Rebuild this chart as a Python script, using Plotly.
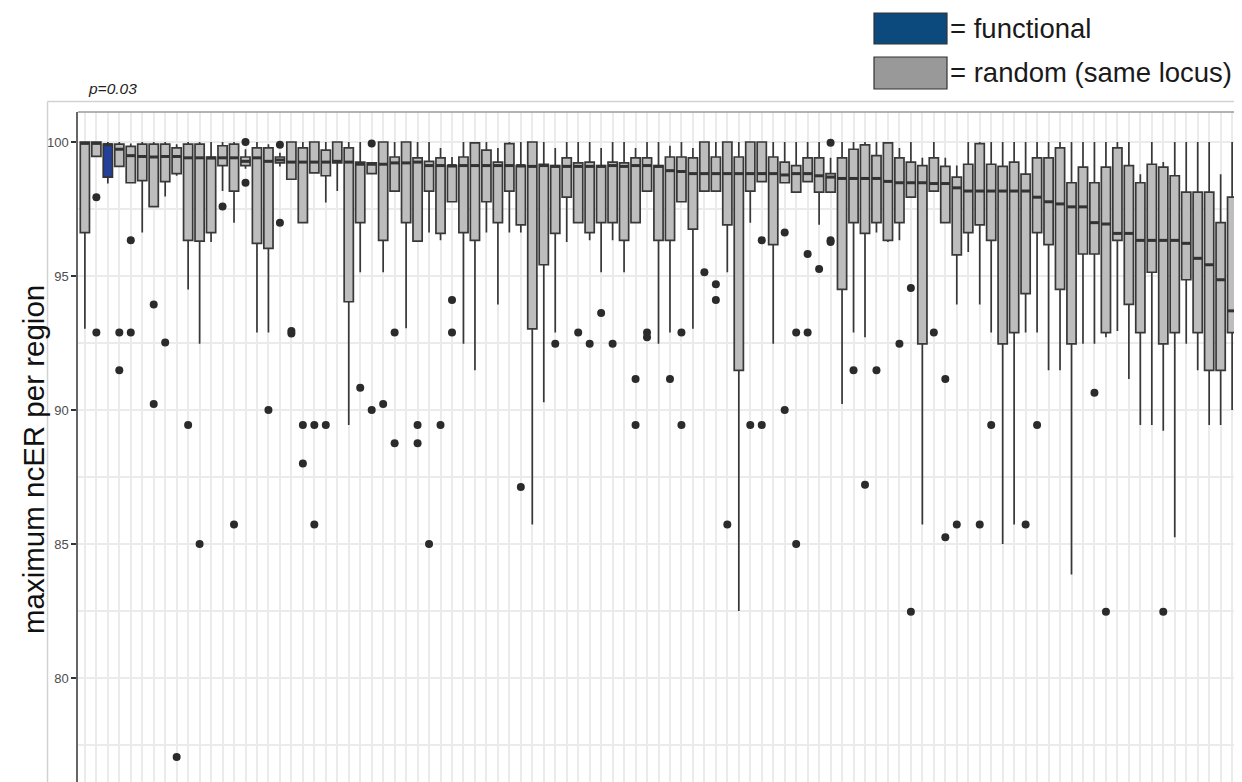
import plotly.graph_objects as go

# ---------------- data ----------------
regions = list(range(1, 102))          # region index along the x axis
functional_region = 3

lower = [93.03, 99.46, 98.45, 99.09, 98.48, 96.62, 97.59, 97.97, 98.74, 94.50,
         92.47, 96.27, 98.17, 96.99, 99.00, 92.89, 92.89, 99.09, 98.61, 96.99,
         98.85, 97.74, 98.17, 89.44, 95.14, 98.82, 95.14, 98.17, 93.05, 96.30,
         96.62, 96.33, 97.77, 92.47, 91.48, 96.62, 93.94, 96.62, 96.62, 85.73,
         90.29, 92.89, 96.27, 96.99, 96.33, 95.14, 96.33, 95.14, 96.99, 98.17,
         92.47, 92.89, 97.77, 93.03, 98.17, 98.17, 95.14, 82.50, 96.99, 98.52,
         92.47, 98.48, 98.13, 98.52, 96.91, 98.13, 90.22, 92.89, 92.71, 96.62,
         96.27, 96.33, 97.94, 85.73, 98.17, 96.99, 93.94, 95.90, 93.94, 92.89,
         85.00, 85.73, 92.89, 92.89, 91.48, 91.48, 83.86, 92.47, 92.47, 92.71,
         92.95, 91.16, 89.44, 89.44, 89.23, 85.25, 92.47, 91.48, 89.44, 89.44,
         90.00]
q1 = [96.62, 99.46, 98.69, 99.09, 98.48, 98.56, 97.59, 98.52, 98.82, 96.33,
      96.30, 96.62, 99.12, 98.17, 99.12, 96.22, 96.03, 99.22, 98.61, 96.99,
      98.85, 98.74, 99.22, 94.04, 96.99, 98.82, 96.33, 98.17, 96.99, 96.30,
      98.17, 96.59, 97.77, 96.62, 96.33, 97.77, 96.99, 98.17, 96.91, 93.03,
      95.42, 96.59, 97.94, 96.99, 96.62, 96.99, 96.99, 96.33, 96.99, 98.17,
      96.33, 96.33, 97.77, 96.75, 98.17, 98.17, 96.91, 91.48, 98.17, 98.52,
      96.17, 98.48, 98.13, 98.52, 98.13, 98.13, 94.50, 96.99, 96.59, 96.99,
      96.33, 96.99, 97.94, 92.47, 98.17, 96.99, 95.79, 96.62, 96.91, 96.33,
      92.47, 92.89, 94.34, 96.62, 96.17, 94.50, 92.47, 95.82, 95.82, 92.89,
      96.33, 93.94, 92.89, 95.14, 92.47, 92.89, 94.86, 92.89, 91.48, 91.48,
      92.89]
median = [99.95, 99.95, 99.90, 99.73, 99.49, 99.46, 99.44, 99.46, 99.46, 99.41,
          99.41, 99.40, 99.41, 99.41, 99.28, 99.41, 99.28, 99.33, 99.25, 99.25,
          99.25, 99.25, 99.28, 99.25, 99.17, 99.17, 99.17, 99.22, 99.22, 99.25,
          99.12, 99.12, 99.12, 99.12, 99.12, 99.12, 99.12, 99.12, 99.12, 99.09,
          99.12, 99.09, 99.09, 99.09, 99.09, 99.09, 99.12, 99.09, 99.12, 99.12,
          99.09, 98.93, 98.90, 98.82, 98.82, 98.82, 98.82, 98.82, 98.82, 98.82,
          98.82, 98.77, 98.82, 98.82, 98.74, 98.69, 98.64, 98.64, 98.64, 98.64,
          98.53, 98.48, 98.48, 98.48, 98.45, 98.45, 98.29, 98.17, 98.17, 98.17,
          98.17, 98.17, 98.17, 97.94, 97.77, 97.69, 97.58, 97.58, 96.99, 96.94,
          96.59, 96.59, 96.33, 96.33, 96.33, 96.33, 96.22, 95.66, 95.42, 94.86,
          93.70]
q3 = [100.0, 100.0, 99.92, 99.92, 99.84, 99.92, 99.92, 99.92, 99.78, 99.92,
      99.92, 99.44, 99.86, 99.92, 99.44, 99.78, 99.78, 99.44, 100.0, 99.78,
      100.0, 99.70, 100.0, 99.78, 99.25, 99.22, 100.0, 99.44, 100.0, 99.41,
      99.28, 99.41, 99.12, 99.44, 99.97, 99.70, 99.25, 99.94, 99.12, 100.0,
      99.17, 99.12, 99.41, 99.22, 99.25, 99.12, 99.25, 99.22, 99.41, 99.41,
      99.12, 99.44, 99.44, 99.41, 100.0, 99.44, 100.0, 99.44, 100.0, 100.0,
      99.44, 99.25, 99.12, 99.41, 99.41, 98.82, 99.41, 99.73, 99.89, 99.49,
      99.97, 99.41, 99.25, 99.12, 99.41, 99.09, 98.69, 99.17, 99.94, 99.17,
      99.09, 99.25, 98.80, 99.41, 99.41, 99.78, 98.48, 99.06, 98.48, 99.06,
      99.78, 99.12, 98.48, 99.17, 99.06, 98.74, 98.13, 98.13, 98.13, 96.99,
      97.94]
upper = [100.0, 100.0, 100.0, 100.0, 99.94, 100.0, 100.0, 100.0, 99.92, 100.0,
         100.0, 100.0, 100.0, 100.0, 99.73, 100.0, 99.92, 99.60, 100.0, 100.0,
         100.0, 100.0, 100.0, 100.0, 100.0, 99.22, 100.0, 100.0, 100.0, 100.0,
         100.0, 99.78, 99.44, 100.0, 100.0, 100.0, 99.78, 100.0, 100.0, 100.0,
         100.0, 99.78, 100.0, 100.0, 100.0, 99.78, 100.0, 100.0, 99.78, 100.0,
         100.0, 99.86, 100.0, 99.78, 100.0, 100.0, 100.0, 100.0, 100.0, 100.0,
         100.0, 100.0, 100.0, 100.0, 100.0, 99.41, 100.0, 100.0, 100.0, 100.0,
         100.0, 99.78, 100.0, 99.41, 100.0, 99.41, 99.12, 100.0, 100.0, 100.0,
         100.0, 100.0, 100.0, 100.0, 100.0, 100.0, 100.0, 100.0, 100.0, 100.0,
         100.0, 100.0, 98.80, 100.0, 99.25, 100.0, 100.0, 100.0, 100.0, 98.80,
         100.0]

outlier_box = [2, 2, 4, 4, 5, 5, 7, 7, 8, 9, 10, 11, 13, 14, 15, 15, 17,
               18, 18, 19, 19, 20, 20, 21, 21, 22, 25, 26, 26, 27, 28, 28,
               30, 30, 31, 32, 33, 33, 39, 42, 44, 45, 46, 47, 49, 49, 50, 50,
               52, 53, 53, 55, 56, 56, 57, 59, 60, 60, 62, 62, 63, 63, 64, 64,
               65, 66, 66, 66, 68, 69, 70, 72, 73, 73, 75, 76, 76, 77, 79, 80,
               83, 84, 89, 90, 95]
outlier_val = [97.94, 92.89, 92.89, 91.48, 96.33, 92.89, 93.94, 90.22, 92.52,
               77.05, 89.44, 85.00, 97.59, 85.73, 100.0, 98.48, 90.00,
               99.90, 96.99, 92.95, 92.85, 89.44, 88.00, 89.44, 85.73, 89.44,
               90.83, 99.94, 90.00, 90.22, 92.89, 88.76, 89.44, 88.76, 85.00,
               89.44, 94.10, 92.89, 87.13, 92.47, 92.89, 92.47, 93.62, 92.47,
               91.16, 89.44, 92.89, 92.71, 91.16, 92.89, 89.44, 95.14, 94.69,
               94.10, 85.73, 89.44, 96.33, 89.44, 96.62, 90.00, 92.89, 85.00,
               95.82, 92.89, 95.26, 99.97, 96.33, 96.27, 91.48, 87.21, 91.48,
               92.47, 94.55, 82.47, 92.89, 91.16, 85.25, 85.73, 85.73, 89.44,
               85.73, 89.44, 90.64, 82.47, 82.47]

y_ticks = [80, 85, 90, 95, 100]
y_minor = [77.5, 82.5, 87.5, 92.5, 97.5]

# ---------------- layout geometry ----------------
OFF = 8                      # page body margin of the html page
W, H = 1242 - OFF, 782 - OFF
L, R, T, B = 70, 3, 104, 0
PW, PH = W - L - R, H - T - B
BOX_W = 0.8
HALF = BOX_W / 2


def px(x):   # reference-screen pixel -> paper
    return (x - OFF - L) / PW


def py(y):
    return (H - B - (y - OFF)) / PH


fi = regions.index(functional_region)
gray_idx = [i for i in range(len(regions)) if i != fi]

fig = go.Figure()
fig.add_trace(go.Box(
    x=[regions[i] for i in gray_idx],
    lowerfence=[lower[i] for i in gray_idx],
    q1=[q1[i] for i in gray_idx],
    median=[median[i] for i in gray_idx],
    q3=[q3[i] for i in gray_idx],
    upperfence=[upper[i] for i in gray_idx],
    width=BOX_W,
    fillcolor="#bdbdbd", line=dict(color="#383838", width=1.7),
    whiskerwidth=0, boxpoints=False, showlegend=False, hoverinfo="skip"))
fig.add_trace(go.Box(
    x=[regions[fi]],
    lowerfence=[lower[fi]], q1=[q1[fi]], median=[median[fi]],
    q3=[q3[fi]], upperfence=[upper[fi]],
    width=BOX_W,
    fillcolor="#23409a", line=dict(color="#333333", width=1.7),
    whiskerwidth=0, boxpoints=False, showlegend=False, hoverinfo="skip"))

# thick median bars (ggplot style)
mx, my = [], []
for r, m in zip(regions, median):
    mx += [r - HALF, r + HALF, None]
    my += [m, m, None]
fig.add_trace(go.Scatter(x=mx, y=my, mode="lines",
                         line=dict(color="#333333", width=3),
                         showlegend=False, hoverinfo="skip"))

fig.add_trace(go.Scatter(
    x=outlier_box, y=outlier_val, mode="markers",
    marker=dict(size=8, color="#2b2b2b"), showlegend=False, hoverinfo="skip"))

shapes = [
    dict(type="line", xref="paper", yref="paper", x0=0, x1=1, y0=1, y1=1,
         line=dict(color="#9a9a9a", width=1.5)),
    dict(type="line", xref="paper", yref="paper", x0=1, x1=1, y0=0, y1=1,
         line=dict(color="#9a9a9a", width=1.5)),
    dict(type="line", xref="paper", yref="paper", x0=px(47.5), x1=px(1242),
         y0=py(101.5), y1=py(101.5), line=dict(color="#d2d2d2", width=1.5)),
    dict(type="line", xref="paper", yref="paper", x0=px(47.5), x1=px(47.5),
         y0=0, y1=py(101.5), line=dict(color="#d2d2d2", width=1.5)),
    dict(type="rect", xref="paper", yref="paper", x0=px(874), x1=px(947),
         y0=py(44), y1=py(13), fillcolor="#0c4a7e",
         line=dict(color="#333333", width=1.2)),
    dict(type="rect", xref="paper", yref="paper", x0=px(874), x1=px(947),
         y0=py(89), y1=py(57), fillcolor="#999999",
         line=dict(color="#333333", width=1.2)),
]

annotations = [
    dict(text="= functional", xref="paper", yref="paper", x=px(948), y=py(28),
         xanchor="left", yanchor="middle", showarrow=False,
         font=dict(family="Liberation Sans", size=27.5, color="#1a1a1a")),
    dict(text="= random (same locus)", xref="paper", yref="paper", x=px(948),
         y=py(73), xanchor="left", yanchor="middle", showarrow=False,
         font=dict(family="Liberation Sans", size=27.5, color="#1a1a1a")),
    dict(text="p=0.03", xref="paper", yref="paper", x=px(86), y=py(89),
         xanchor="left", yanchor="middle", showarrow=False,
         font=dict(family="Liberation Sans", size=15.5, color="#222222",
                   style="italic")),
    dict(text="maximum ncER per region", xref="paper", yref="paper",
         x=px(33), y=py(460), xanchor="center", yanchor="middle",
         textangle=-90, showarrow=False,
         font=dict(family="Liberation Sans", size=29.5, color="#111111")),
]

y100 = 142 - OFF
fig.update_layout(
    width=W, height=H,
    margin=dict(l=L, r=R, t=T, b=B),
    plot_bgcolor="white", paper_bgcolor="white",
    boxmode="overlay",
    shapes=shapes, annotations=annotations,
    xaxis=dict(range=[0.4, len(regions) + 0.6], tick0=1, dtick=1,
               showticklabels=False, showgrid=True, gridcolor="#ebebeb",
               gridwidth=1.6, ticks="", zeroline=False, showline=False),
    yaxis=dict(range=[100 - (H - B - y100) / 26.8, 100 + (y100 - T) / 26.8],
               tickvals=y_ticks, ticktext=[str(v) for v in y_ticks],
               showgrid=True, gridcolor="#ebebeb", gridwidth=1.6,
               minor=dict(tickvals=y_minor, showgrid=True, gridcolor="#ebebeb",
                          gridwidth=1.6, ticks=""),
               ticks="outside", ticklen=5, tickwidth=1.5, tickcolor="#333333",
               showline=True, linecolor="#666666", linewidth=1.5,
               zeroline=False,
               tickfont=dict(family="Liberation Sans", size=13, color="#4d4d4d")),
)

fig.write_html("out.html")
